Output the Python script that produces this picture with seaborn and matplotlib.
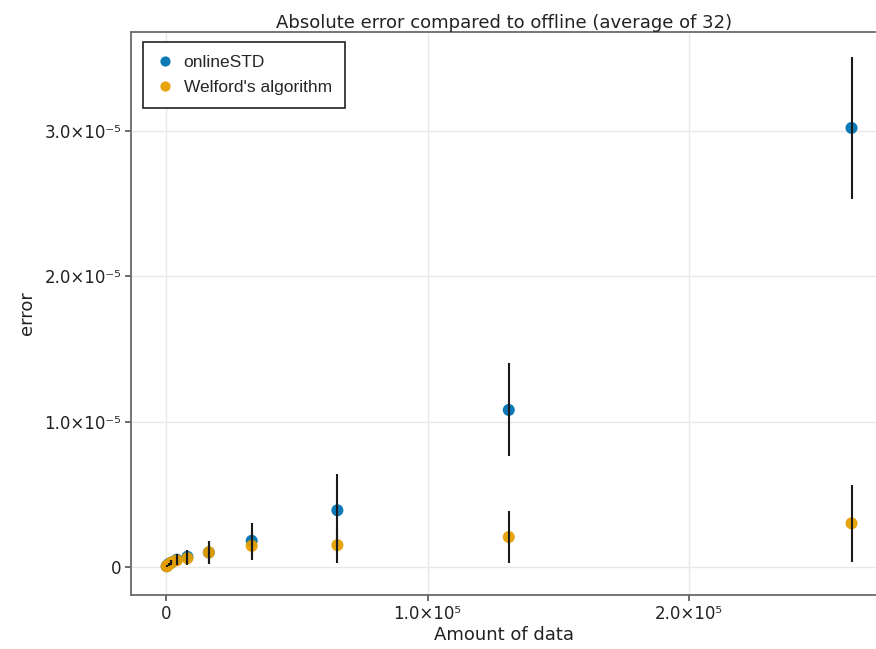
import numpy as np
import pandas as pd
import matplotlib
matplotlib.use("Agg")
import matplotlib.pyplot as plt
import seaborn as sns
from matplotlib.ticker import FixedLocator, FixedFormatter

# data (error values in units of 1e-5)
amount = [256, 512, 1024, 2048, 4096, 8192, 16384, 32768, 65536, 131072, 262144]
online_mean = [0.005, 0.01, 0.02, 0.03, 0.05, 0.07, 0.10, 0.18, 0.39, 1.08, 3.02]
online_sd = [0.003, 0.005, 0.01, 0.02, 0.04, 0.05, 0.08, 0.12, 0.25, 0.32, 0.49]
welford_mean = [0.004, 0.008, 0.015, 0.03, 0.045, 0.06, 0.10, 0.145, 0.15, 0.206, 0.30]
welford_sd = [0.003, 0.005, 0.01, 0.02, 0.03, 0.05, 0.08, 0.10, 0.12, 0.18, 0.265]
series = ["onlineSTD", "Welford's algorithm"]

df = pd.DataFrame({
    "amount": amount * 2,
    "error": np.array(online_mean + welford_mean) * 1e-5,
    "sd": np.array(online_sd + welford_sd) * 1e-5,
    "method": [series[0]] * len(amount) + [series[1]] * len(amount),
})

custom_params = {"axes.spines.right": False, "axes.spines.top": True,
                 "axes.edgecolor": "#6a6a6a", "axes.linewidth": 1.3,
                 "grid.color": "#e8e8e8", "grid.linewidth": 1.0,
                 "xtick.bottom": True, "ytick.left": True,
                 "xtick.major.size": 4, "ytick.major.size": 4,
                 "xtick.color": "#5a5a5a", "ytick.color": "#5a5a5a"}
sns.set_theme(style="whitegrid", rc=custom_params)
plt.rcParams["font.family"] = ["DejaVu Sans"]

colors = {series[0]: "#0072B2", series[1]: "#E69F00"}

fig = plt.figure(figsize=(8.76, 6.49), dpi=100)
ax = fig.add_axes([0.1495, 0.0832, 0.852, 0.8675])

sns.scatterplot(data=df, x="amount", y="error", hue="method", palette=colors,
                s=75, linewidth=0, alpha=0.95, ax=ax, zorder=3)
for name in series:
    sub = df[df["method"] == name]
    ax.errorbar(sub["amount"], sub["error"], yerr=sub["sd"], fmt="none",
                ecolor="#1a1a1a", elinewidth=1.5, capsize=0, zorder=4)

ax.set_xlim(-13400, 272000)
ax.set_ylim(-0.193e-5, 3.68e-5)
ax.xaxis.set_major_locator(FixedLocator([0, 1e5, 2e5]))
ax.xaxis.set_major_formatter(FixedFormatter(["0", "1.0×10⁵", "2.0×10⁵"]))
ax.yaxis.set_major_locator(FixedLocator([0, 1e-5, 2e-5, 3e-5]))
ax.yaxis.set_major_formatter(FixedFormatter(["0", "1.0×10⁻⁵", "2.0×10⁻⁵", "3.0×10⁻⁵"]))
ax.tick_params(labelsize=12, labelcolor="#222222", pad=3)

ax.set_xlabel("Amount of data", fontsize=13, color="#222222", labelpad=2)
ax.set_ylabel("error", fontsize=13, color="#222222", labelpad=6)
ax.set_title("Absolute error compared to offline (average of 32)", fontsize=13,
             color="#222222", pad=3)

leg = ax.legend(loc="upper left", frameon=True, fancybox=False,
                prop={"family": "Liberation Sans", "size": 12.5},
                borderpad=0.75, handletextpad=0.6, handlelength=1.0,
                labelspacing=0.6, markerscale=0.85, borderaxespad=0,
                bbox_to_anchor=(0.016, 0.983))
leg.get_frame().set_edgecolor("#222222")
leg.get_frame().set_linewidth(1.2)
leg.get_frame().set_alpha(1)
leg.set_title(None)

fig.savefig("out.png", dpi=100)
